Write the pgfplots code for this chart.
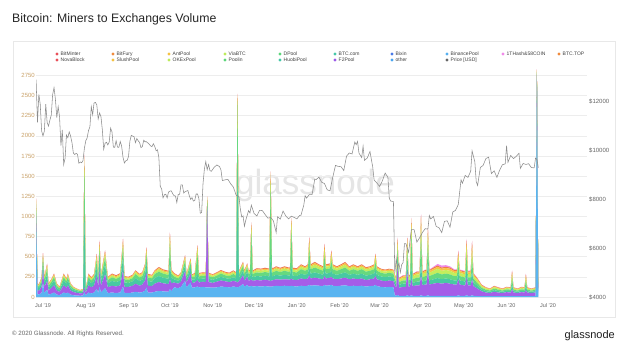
\documentclass[border=0pt]{standalone}
\usepackage{fontspec}
\setmainfont{Liberation Sans}
\usepackage{pgfplots}
\pgfplotsset{compat=1.18}
\usepackage{pgfplotstable}

\definecolor{cB}{HTML}{5AB4F0}
\definecolor{cP}{HTML}{A55DE8}
\definecolor{cT}{HTML}{48C9A2}
\definecolor{cG}{HTML}{66D97F}
\definecolor{cL}{HTML}{C4EE5C}
\definecolor{cY}{HTML}{F6C544}
\definecolor{cR}{HTML}{EF7A4A}
\definecolor{cK}{HTML}{F08AE9}
\definecolor{tan}{HTML}{C9A168}
\definecolor{lgred}{HTML}{E9505A}
\definecolor{lgorange}{HTML}{F08A3C}
\definecolor{lgyellow}{HTML}{F5C242}
\definecolor{lglime}{HTML}{BDEB5A}
\definecolor{lggreen}{HTML}{5CD67A}
\definecolor{lgteal}{HTML}{45C7A8}
\definecolor{lgpurple}{HTML}{9B59E8}
\definecolor{lgblue}{HTML}{4A7AE8}
\definecolor{lgsky}{HTML}{4AA5F0}
\definecolor{lgbin}{HTML}{56B0F0}
\definecolor{lgpink}{HTML}{F08AE9}

\pgfplotstableread{
d B P T G L Y R K
-5 900 100 80 70 35 20 15 0
-4 35 50 35 22 12 8 8 0
-3 30 45 35 20 12 8 8 0
-2 40 60 40 25 15 10 10 0
-1 50 75 50 30 18 12 15 0
0 180 150 90 60 30 18 16 0
1 50 75 50 35 18 12 10 0
3 90 110 80 65 35 20 13 0
4 30 50 35 25 13 8 7 0
6 40 70 45 30 15 10 10 0
8 55 90 60 40 20 13 12 0
10 30 50 35 25 13 8 7 0
12 22 40 25 18 10 6 6 0
15 55 90 60 40 20 13 12 0
17 45 70 50 30 15 10 10 0
18 55 90 60 40 20 13 12 0
20 30 50 35 25 13 8 7 0
22 22 40 25 18 10 6 6 0
24 18 35 22 15 8 5 4 0
27 15 28 18 12 6 4 3 0
29 18 32 20 14 7 5 4 0
30 60 60 900 600 80 40 25 0
31 20 35 25 15 8 5 4 0
33 55 90 60 40 20 13 12 0
35 45 75 50 35 18 12 10 0
37 55 85 60 40 20 13 12 0
39 100 160 110 80 40 25 21 0
40 50 80 55 40 20 12 10 0
41 130 200 150 110 55 30 25 0
42 55 85 60 40 20 13 12 0
45 110 170 120 85 45 27 20 0
47 50 70 50 40 18 12 10 0
50 55 85 60 45 22 13 10 0
53 50 80 55 40 20 13 12 0
56 55 90 60 45 22 13 10 0
58 130 200 160 120 55 30 25 0
59 50 75 55 40 20 12 8 0
62 50 75 50 35 18 12 10 0
65 55 85 55 40 20 12 10 0
67 65 100 70 50 22 14 10 0
70 55 85 60 42 22 13 10 0
72 60 95 60 45 22 14 12 0
74 80 125 85 60 30 18 15 0
75 120 180 130 95 45 27 20 0
76 55 85 60 42 22 13 10 0
79 55 80 55 42 20 12 10 0
81 65 100 70 50 22 14 10 0
84 75 110 75 55 27 17 13 0
87 70 100 70 50 25 15 12 0
91 65 95 65 48 25 15 12 0
92 100 120 200 250 80 30 20 0
93 70 100 70 50 25 15 12 0
95 120 60 40 35 20 12 10 0
98 110 55 35 30 18 10 8 0
100 125 65 40 35 20 12 10 0
103 200 120 70 60 35 20 15 0
104 120 60 40 30 18 10 8 0
107 180 110 70 60 30 18 12 0
108 115 60 40 30 18 10 8 0
110 120 60 40 35 20 12 10 0
112 130 80 70 250 70 25 15 0
113 120 60 40 35 20 12 10 0
116 125 65 40 35 20 12 10 0
118 120 65 40 35 20 12 10 0
119 120 1000 50 40 20 10 10 0
120 120 65 40 35 20 12 10 0
123 115 60 38 32 18 10 8 0
126 120 70 40 35 20 12 10 0
129 130 75 45 40 22 12 10 0
132 125 70 40 35 20 12 10 0
135 120 65 40 35 20 12 10 0
138 130 70 45 40 22 12 10 0
140 125 65 40 35 20 12 10 0
141 120 60 1400 850 50 25 15 0
142 125 70 45 40 20 12 10 0
145 160 110 60 55 25 15 12 0
146 130 70 45 40 22 12 10 0
148 150 100 60 55 25 15 12 0
149 130 75 45 40 22 12 10 0
150 130 75 45 40 22 12 10 0
151 140 80 80 500 80 30 15 0
152 130 70 45 40 22 12 10 0
155 135 75 50 45 25 15 12 0
158 130 75 50 45 25 15 12 0
161 135 80 50 45 25 15 12 0
164 130 75 50 45 25 15 12 0
165 130 70 300 900 120 25 15 0
166 130 75 50 45 25 15 12 0
169 140 80 55 50 28 15 12 0
172 135 80 50 45 25 15 12 0
175 140 80 55 50 28 15 12 0
179 135 80 50 45 25 15 12 0
180 140 90 150 450 110 35 10 0
181 135 80 50 45 25 15 12 0
184 130 80 50 45 25 15 12 0
187 140 90 60 55 30 18 12 0
190 135 85 55 50 28 15 12 0
192 140 90 60 55 30 18 12 0
193 150 120 100 220 90 35 25 0
194 140 90 60 55 30 18 12 0
197 145 95 65 60 35 20 15 0
200 140 90 60 55 30 18 12 0
203 135 85 55 50 28 15 12 0
204 150 110 90 160 80 40 28 0
205 140 90 60 55 30 18 12 0
208 145 95 60 55 30 18 12 0
209 150 100 80 120 70 35 22 0
210 140 90 60 55 30 18 12 0
213 135 85 55 50 28 15 12 0
216 140 90 60 55 30 18 12 0
219 145 95 65 60 35 20 15 0
222 135 85 55 50 28 15 12 0
225 140 90 60 55 30 18 12 0
228 135 85 55 50 28 15 12 0
231 140 90 60 55 30 18 12 0
234 130 80 55 50 28 15 12 0
237 135 85 55 50 28 15 12 0
240 140 90 60 55 30 18 12 0
241 150 110 70 100 60 30 16 0
242 135 85 55 50 28 15 12 0
245 125 80 50 45 25 15 10 0
248 120 75 50 45 25 15 10 0
251 125 80 50 45 25 15 10 0
254 120 75 50 45 25 15 10 0
255 20 120 40 40 30 20 10 5
256 15 100 35 35 25 15 10 5
257 25 350 100 120 80 40 20 5
258 15 100 35 35 25 15 10 5
261 15 110 40 40 30 20 10 5
263 15 110 40 40 30 20 10 5
264 20 300 120 150 90 40 15 5
265 15 110 40 40 30 20 10 5
266 15 115 40 42 32 20 10 5
267 20 200 150 400 150 45 15 5
268 15 120 40 45 35 20 10 5
271 15 130 45 50 40 22 12 5
273 15 130 45 50 40 22 12 5
274 20 250 150 350 160 60 27 10
275 15 130 45 50 40 22 12 5
277 15 140 50 55 40 22 12 6
278 15 140 50 55 40 22 12 6
279 20 300 120 230 120 45 20 7
280 15 140 50 55 40 22 12 6
283 15 150 55 60 45 25 15 10
286 15 160 60 65 50 25 15 20
289 15 150 55 60 45 25 15 25
292 15 160 55 60 45 25 15 20
295 15 150 55 60 45 25 15 15
298 15 140 50 55 40 22 12 10
300 15 140 50 55 40 22 12 8
301 20 200 80 120 80 40 27 10
302 15 140 50 55 40 22 12 8
305 15 130 50 50 40 22 12 8
306 15 130 50 50 40 22 12 8
307 20 220 100 180 110 50 30 10
308 15 130 50 50 40 22 12 8
310 15 130 50 50 40 22 12 8
311 20 200 100 170 110 55 35 10
312 15 120 45 45 35 20 12 6
315 12 90 35 35 30 15 10 5
318 10 60 22 22 18 10 8 3
321 10 45 18 18 15 8 6 2
324 10 40 15 15 12 7 5 2
327 10 55 20 20 16 9 7 2
330 10 45 18 18 14 8 6 2
333 10 40 15 15 12 7 5 2
336 10 50 18 18 15 8 6 2
339 10 45 18 18 14 8 6 2
340 15 80 60 80 50 25 15 6
341 10 45 18 18 14 8 6 2
344 10 40 15 15 12 7 5 2
347 10 50 18 18 15 8 6 2
349 10 45 18 18 14 8 6 2
350 12 70 50 70 45 22 15 6
351 10 45 18 18 14 8 6 2
354 10 40 15 15 12 7 5 2
357 10 45 18 18 14 8 6 2
358 2700 50 20 20 15 10 8 3
359 10 45 18 18 14 8 6 2
}\vol

\pgfplotstableread{
d p
-5 12900
-4 11150
-3 12300
-2 11900
-1 10800
0 10600
1 10800
2 11900
3 11150
4 11000
5 11250
6 11450
7 12300
8 12580
9 12100
10 11350
11 11800
12 11380
13 10200
14 10850
15 9430
16 9680
17 10630
18 10530
19 10760
20 10590
21 10330
22 9900
23 9840
24 9880
25 9850
26 9480
27 9530
28 9500
29 9590
30 10090
31 10400
32 10520
33 10820
34 10970
35 11800
36 11470
37 11950
38 11970
39 11870
40 11290
41 11540
42 11390
43 10860
44 10050
45 10300
46 10340
47 10230
48 10350
49 10920
50 10760
51 10140
52 10130
53 10400
54 10140
55 10130
56 10370
57 10180
58 9720
59 9490
60 9580
61 9600
62 9760
63 10390
64 10620
65 10590
66 10570
67 10320
68 10490
69 10400
70 10330
71 10120
72 10160
73 10420
74 10360
75 10360
76 10310
77 10260
78 10190
79 10160
80 10280
81 10170
82 9990
83 10030
84 9700
85 8530
86 8430
87 8060
88 8190
89 8210
90 8060
91 8300
92 8340
93 8350
94 8230
95 8150
96 8140
97 7870
98 8200
99 8200
100 8590
101 8590
102 8260
103 8320
104 8340
105 8360
106 8160
107 8000
108 8070
109 7930
110 7960
111 8220
112 8220
113 8030
114 7430
115 7460
116 8660
117 9250
118 9550
119 9210
120 9430
121 9180
122 9150
124 9310
126 9410
128 9340
129 9200
130 8770
132 8800
134 8820
136 8640
138 8500
140 8170
142 8120
143 7620
144 7280
145 7320
146 6900
147 7150
149 7540
150 7440
151 7760
153 7420
155 7320
157 7550
159 7540
161 7380
163 7230
165 7260
167 7120
168 6880
169 6640
170 7290
172 7190
174 7520
176 7320
178 7200
180 7310
182 7260
184 7200
186 7340
187 7350
189 7760
190 8150
191 8050
193 8190
195 8190
197 8830
198 8810
200 8910
202 8700
204 8650
206 8390
208 8350
210 8900
212 9390
214 9350
216 9340
218 9180
220 9770
222 9900
224 9860
226 10350
227 10240
228 10370
229 9900
231 9710
232 10180
233 9600
235 9690
237 9960
239 9320
240 8790
242 8670
244 8530
246 8760
248 9080
250 8900
251 8040
252 7930
254 7910
255 4970
256 5560
257 5200
258 5390
259 5010
260 5330
261 5410
262 6190
263 6190
265 5830
267 6760
269 6760
271 6250
273 6430
275 6640
277 6800
279 6780
280 7340
281 7200
283 7300
285 6890
287 6840
289 6640
291 7100
293 7120
295 6860
297 7480
299 7550
301 7790
303 8800
304 8660
306 8980
308 8900
310 9150
311 9990
313 9540
314 8730
315 8570
317 9310
319 9390
321 9670
323 9730
325 9060
327 9170
329 8900
331 9200
333 9420
335 9450
336 10200
337 9520
339 9800
341 9670
343 9760
345 9890
346 9270
348 9470
350 9430
352 9460
354 9300
356 9290
357 9690
358 9630
359 9300
}\price

\begin{document}
\begin{tikzpicture}[x=1pt,y=1pt]
\path[use as bounding box] (0,0) rectangle (628,351);
\fill[white] (0,0) rectangle (628,351);
\draw[black!9, line width=0.7pt] (13,34) rectangle (615,310);
\node[anchor=base west, inner sep=0pt, font=\fontsize{12.3}{14}\selectfont, text=black!85] at (12,328) {Bitcoin: Miners to Exchanges Volume};
\node[anchor=base west, inner sep=0pt, font=\fontsize{6.2}{7}\selectfont, text=black!60] at (12,16) {© 2020 Glassnode. All Rights Reserved.};
\node[anchor=base east, inner sep=0pt, font=\fontsize{11}{12}\selectfont, text=black!88] at (615,13) {glassnode};
\node[inner sep=0pt, font=\fontsize{35}{36}\selectfont, text=black!10] at (315,166) {glassnode};

% legend
\foreach \x/\ya/\ca/\ta/\yb/\cb/\tb in {
57/297/lgred/BitMinter/291/lgred/NovaBlock,
113/297/lgorange/BitFury/291/lgyellow/SlushPool,
169/297/lgyellow/AntPool/291/lglime/OKExPool,
225/297/lglime/ViaBTC/291/lggreen/Poolin,
280/297/lggreen/DPool/291/lgteal/HuobiPool,
335/297/lgteal/BTC.com/291/lgpurple/F2Pool,
392/297/lgblue/Bixin/291/lgsky/other,
447/297/lgbin/BinancePool/291/black!60/Price [USD]}{
  \fill[\ca] (\x,\ya) circle (1.6);
  \node[anchor=west, inner sep=0pt, font=\fontsize{5}{6}\selectfont, text=black!75] at (\x+3.5,\ya) {\ta};
  \fill[\cb] (\x,\yb) circle (1.6);
  \node[anchor=west, inner sep=0pt, font=\fontsize{5}{6}\selectfont, text=black!75] at (\x+3.5,\yb) {\tb};
}
\fill[lgpink] (503,297) circle (1.6);
\node[anchor=west, inner sep=0pt, font=\fontsize{5}{6}\selectfont, text=black!75] at (506.5,297) {1THash\&58COIN};
\fill[lgorange] (559,297) circle (1.6);
\node[anchor=west, inner sep=0pt, font=\fontsize{5}{6}\selectfont, text=black!75] at (562.5,297) {BTC.TOP};

\begin{axis}[
  at={(36pt,54pt)}, anchor=south west, scale only axis,
  width=551pt, height=228.9pt,
  xmin=-5.07, xmax=394.3, ymin=0, ymax=2840,
  axis line style={draw=none},
  major tick length=0pt,
  scaled ticks=false,
  /pgf/number format/assume math mode=true,
  /pgf/number format/set thousands separator={},
  ytick={0,250,...,2750},
  ymajorgrids, grid style={black!7, line width=0.5pt},
  xtick={0,31,62,92,123,153,184,215,244,275,305,336,366},
  xticklabels={Jul '19,Aug '19,Sep '19,Oct '19,Nov '19,Dec '19,Jan '20,Feb '20,Mar '20,Apr '20,May '20,Jun '20,Jul '20},
  every tick label/.append style={inner sep=0pt},
  xticklabel style={font=\fontsize{5.5}{6}\selectfont, text=black!60, yshift=-6pt},
  yticklabel style={font=\fontsize{6}{7}\selectfont, text=tan, anchor=east, xshift=-1pt},
  stack plots=y,
]
\addplot[fill=cB, draw=none] table[x=d,y=B]{\vol} \closedcycle;
\addplot[fill=cP, draw=none] table[x=d,y=P]{\vol} \closedcycle;
\addplot[fill=cT, draw=none] table[x=d,y=T]{\vol} \closedcycle;
\addplot[fill=cG, draw=none] table[x=d,y=G]{\vol} \closedcycle;
\addplot[fill=cL, draw=none] table[x=d,y=L]{\vol} \closedcycle;
\addplot[fill=cY, draw=none] table[x=d,y=Y]{\vol} \closedcycle;
\addplot[fill=cR, draw=none] table[x=d,y=R]{\vol} \closedcycle;
\addplot[fill=cK, draw=none] table[x=d,y=K]{\vol} \closedcycle;
\end{axis}

\begin{axis}[
  at={(36pt,54pt)}, anchor=south west, scale only axis,
  width=551pt, height=228.9pt,
  xmin=-5.07, xmax=394.3, ymin=4000, ymax=13377,
  axis y line*=right, hide x axis,
  axis line style={draw=none},
  major tick length=0pt,
  scaled ticks=false,
  /pgf/number format/assume math mode=true,
  /pgf/number format/set thousands separator={},
  ytick={4000,6000,8000,10000,12000},
  yticklabel={\$\pgfmathprintnumber{\tick}},
  every tick label/.append style={inner sep=0pt},
  yticklabel style={font=\fontsize{6}{7}\selectfont, text=black!60, anchor=west, xshift=2pt},
]
\addplot[color=black!45, line width=0.55pt] table[x=d,y=p]{\price};
\end{axis}
\end{tikzpicture}
\end{document}
